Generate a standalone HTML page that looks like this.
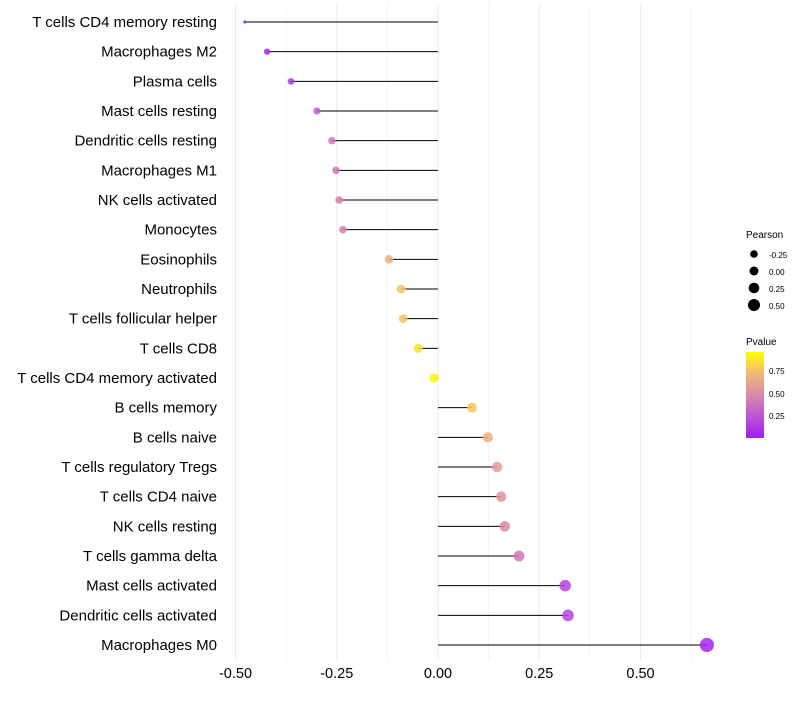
<!DOCTYPE html>
<html><head><meta charset="utf-8">
<style>
body{margin:0;background:#fff;font-family:"Liberation Sans",sans-serif;}
</style></head>
<body>
<svg id="chart" width="800" height="700" xmlns="http://www.w3.org/2000/svg" font-family="Liberation Sans, sans-serif">
<defs>
<linearGradient id="pg" x1="0" y1="1" x2="0" y2="0">
<stop offset="0" stop-color="#a020f0"/>
<stop offset="0.3" stop-color="#c25ed0"/>
<stop offset="0.5" stop-color="#d88aa8"/>
<stop offset="0.75" stop-color="#f0b878"/>
<stop offset="1" stop-color="#ffff00"/>
</linearGradient>
</defs>
<g id="grid"></g>
<g id="marks"></g>
<g id="labels"></g>
<g id="xticks"></g>
<g>
<text x="746" y="238" font-size="10" fill="#000">Pearson</text>
<circle cx="754" cy="254" r="3.8" fill="#000"/><text x="769" y="258" font-size="8">-0.25</text>
<circle cx="754" cy="271" r="4.5" fill="#000"/><text x="769" y="275" font-size="8">0.00</text>
<circle cx="754" cy="288" r="5.3" fill="#000"/><text x="769" y="292" font-size="8">0.25</text>
<circle cx="754" cy="305" r="6" fill="#000"/><text x="769" y="309" font-size="8">0.50</text>
</g>
<g>
<text x="746" y="345" font-size="10">Pvalue</text>
<rect x="746" y="352" width="18" height="86" fill="url(#pg)"/>
<text x="769" y="374" font-size="8">0.75</text>
<text x="769" y="397" font-size="8">0.50</text>
<text x="769" y="419" font-size="8">0.25</text>
</g>
</svg>
<script>
const categories=["T cells CD4 memory resting","Macrophages M2","Plasma cells","Mast cells resting","Dendritic cells resting","Macrophages M1","NK cells activated","Monocytes","Eosinophils","Neutrophils","T cells follicular helper","T cells CD8","T cells CD4 memory activated","B cells memory","B cells naive","T cells regulatory  Tregs ","T cells CD4 naive","NK cells resting","T cells gamma delta","Mast cells activated","Dendritic cells activated","Macrophages M0"];
const pearson=[-0.477,-0.422,-0.363,-0.299,-0.262,-0.252,-0.244,-0.235,-0.121,-0.091,-0.086,-0.049,-0.01,0.084,0.123,0.146,0.156,0.165,0.2,0.314,0.321,0.664];
const pvalue=[0.02,0.05,0.12,0.28,0.4,0.42,0.45,0.45,0.7,0.8,0.8,0.9,0.98,0.8,0.7,0.6,0.55,0.5,0.42,0.18,0.18,0.02];
const xTicks=[-0.5,-0.25,0,0.25,0.5];
const xTickLabels=["-0.50","-0.25","0.00","0.25","0.50"];
const NS="http://www.w3.org/2000/svg";
const x=v=>438+v*405;
const y=i=>22+i*29.667;
const r=v=>v<-0.45?1.6:3.6+(v+0.3)*3.6;
function mix(a,b,t){return a.map((c,i)=>Math.round(c+(b[i]-c)*t));}
const stops=[[0,[160,32,240]],[0.3,[194,94,208]],[0.5,[216,138,168]],[0.75,[240,184,120]],[1,[255,255,0]]];
function col(p){for(let k=1;k<stops.length;k++){if(p<=stops[k][0]){const t=(p-stops[k-1][0])/(stops[k][0]-stops[k-1][0]);const c=mix(stops[k-1][1],stops[k][1],t);return `rgb(${c})`;}}return "rgb(255,255,0)";}
function mk(tag,attrs,parent){const e=document.createElementNS(NS,tag);for(const k in attrs)e.setAttribute(k,attrs[k]);parent.appendChild(e);return e;}
const grid=document.getElementById('grid'),marks=document.getElementById('marks'),labels=document.getElementById('labels'),xt=document.getElementById('xticks');
for(let v=-0.5;v<=0.626;v+=0.125){const major=Math.abs((v*4)-Math.round(v*4))<0.01;const g=mk('line',{x1:x(v),x2:x(v),y1:5,y2:660,stroke:major?'#ebebeb':'#f3f3f3','stroke-width':1},grid);

}
categories.forEach((c,i)=>{
const l=mk('line',{x1:x(0),x2:x(pearson[i]),y1:y(i),y2:y(i),stroke:'#000','stroke-width':1},marks);


const d=mk('circle',{cx:x(pearson[i]),cy:y(i),r:r(pearson[i]),fill:col(pvalue[i]),'fill-opacity':0.85},marks);


const t=mk('text',{x:217,y:y(i)+5,'text-anchor':'end','font-size':15,fill:'#000'},labels);
t.textContent=c;


});
xTicks.forEach((v,i)=>{const t=mk('text',{x:x(v),y:678,'text-anchor':'middle','font-size':14.5,fill:'#000'},xt);
t.textContent=xTickLabels[i];

});
</script>
</body></html>
